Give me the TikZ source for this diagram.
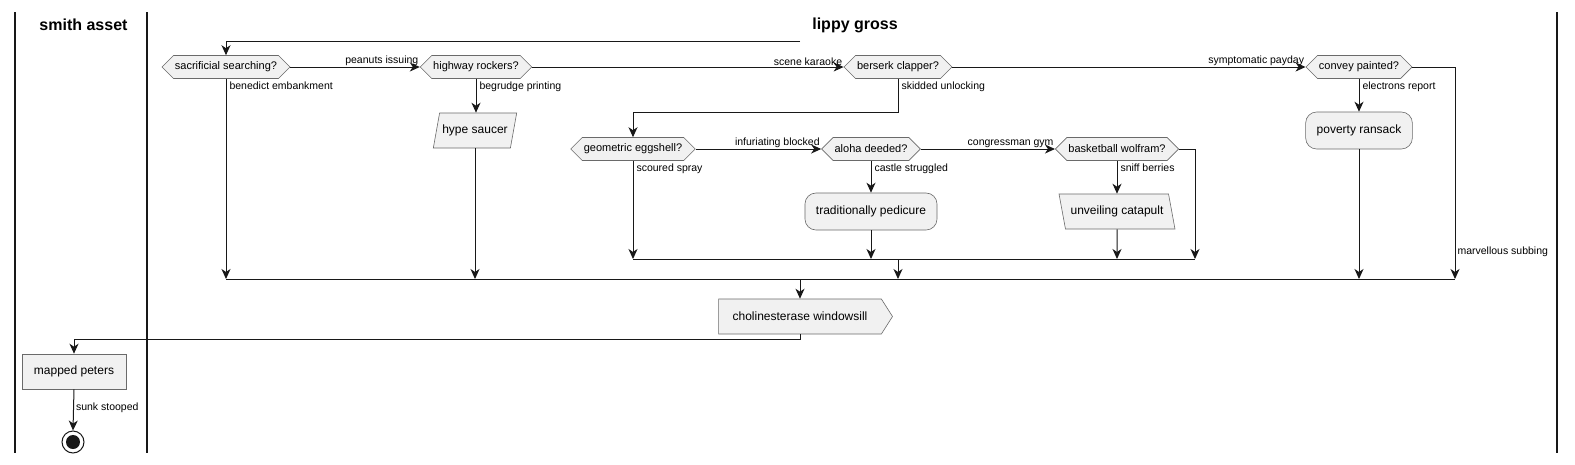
\documentclass[tikz,border=0pt]{standalone}
\usepackage{fontspec}
\setmainfont{Liberation Sans}
\usetikzlibrary{positioning, arrows.meta, shapes.symbols, shapes.geometric}
\definecolor{actfill}{HTML}{F1F1F1}
\definecolor{ink}{HTML}{181818}
\definecolor{rim}{HTML}{6A6A6A}
\tikzset{
>={Stealth[length=10pt,width=9pt,inset=3pt]}, % makes the arrow heads bold
flow/.style={->, draw=ink, line width=1pt}, % every connector between the steps
bar/.style={draw=ink, line width=1pt}, % the merge bars
lane/.style={draw=ink, line width=1.2pt}, % swimlane separators
lanetitle/.style={font=\fontsize{16}{19}\selectfont\bfseries},
lbl/.style={font=\fontsize{10.5}{12}\selectfont, inner sep=1pt}, % text on the connectors
decision/.style={signal, signal to=west and east, signal pointer angle=90, draw=rim, line width=0.6pt,
  fill=actfill, minimum height=23pt, inner xsep=1.5pt, inner ysep=2pt, font=\fontsize{11}{13}\selectfont},
action/.style={rectangle, rounded corners=11pt, draw=rim, line width=0.6pt, fill=actfill,
  minimum height=37pt, inner xsep=11pt, font=\fontsize{12}{14}\selectfont},
plainbox/.style={rectangle, draw=rim, line width=0.6pt, fill=actfill,
  minimum height=35pt, inner xsep=12pt, font=\fontsize{12}{14}\selectfont},
inbox/.style={trapezium, trapezium stretches=true, trapezium left angle=72, trapezium right angle=108,
  draw=rim, line width=0.6pt, fill=actfill, minimum height=35pt, inner xsep=0pt, font=\fontsize{12}{14}\selectfont},
outbox/.style={inbox, trapezium left angle=108, trapezium right angle=72},
sendbox/.style={signal, signal to=east, signal pointer angle=115, draw=rim, line width=0.6pt,
  fill=actfill, minimum height=35pt, inner xsep=14pt, font=\fontsize{12}{14}\selectfont},
stopnode/.style={circle, draw=ink, line width=1pt, fill=white, minimum size=22pt, inner sep=0pt,
  path picture={\fill[ink] (path picture bounding box.center) circle (7pt);}},
}
\begin{document}
\begin{tikzpicture}[x=1pt, y=-1pt]
        \useasboundingbox (0,0) rectangle (1575,464);
        % swimlanes
        \draw[lane] (15,12) -- (15,453);
        \draw[lane] (147,12) -- (147,453);
        \draw[lane] (1557,12) -- (1557,453);
        \node[lanetitle] (smith) at (83.5,25) {smith asset};
        \node[lanetitle] (lippy) at (855,25) {lippy gross};
        % top row
        \node[decision] (sacrificial) at (226,67) {sacrificial searching?};
        \node[decision] (highway) at (476,67) {highway rockers?};
        \node[decision] (berserk) at (898,67) {berserk clapper?};
        \node[decision] (convey) at (1359,67) {convey painted?};
        \node[inbox, minimum width=84pt] (hype) at (475,130.5) {hype saucer};
        \node[action] (poverty) at (1359,130.5) {poverty ransack};
        % second row
        \node[decision] (geometric) at (633,149) {geometric eggshell?};
        \node[decision] (aloha) at (871,149) {aloha deeded?};
        \node[decision] (basketball) at (1117,149) {basketball wolfram?};
        \node[action] (pedicure) at (871,211.5) {traditionally pedicure};
        \node[outbox, minimum width=116pt] (catapult) at (1117,211.5) {unveiling catapult};
        % bottom
        \node[sendbox] (cholin) at (800,316.5) {cholinesterase windowsill};
        \node[plainbox] (peters) at (74,371.5) {mapped peters};
        \node[stopnode] (stop) at (73,442) {};
        \coordinate (loopstart) at (800,41);
        \coordinate (innerbar) at (0,259);
        \coordinate (outerbar) at (0,279);
        \coordinate (sniffside) at (1195,259);
        \coordinate (marvel) at (1455,279);

        \draw[flow] (loopstart) -| (sacrificial.north);
        \draw[flow] (sacrificial.east) -- node[lbl, pos=1, anchor=south east] {peanuts issuing} (highway.west);
        \draw[flow] (highway.east) -- node[lbl, pos=1, anchor=south east] {scene karaoke} (berserk.west);
        \draw[flow] (berserk.east) -- node[lbl, pos=1, anchor=south east] {symptomatic payday} (convey.west);
        \draw[flow] (sacrificial.south) node[lbl, anchor=north west, xshift=2pt, yshift=-2pt] {benedict embankment} -- (sacrificial.south |- outerbar);
        \draw[flow] (highway.south) node[lbl, anchor=north west, xshift=2pt, yshift=-2pt] {begrudge printing} -- (highway.south |- hype.north);
        \draw[flow] (hype.south) -- (hype.south |- outerbar);
        \draw[flow] (berserk.south) node[lbl, anchor=north west, xshift=2pt, yshift=-2pt] {skidded unlocking} -- ++(0,33.5) -| (geometric.north);
        \draw[flow] (convey.south) node[lbl, anchor=north west, xshift=2pt, yshift=-2pt] {electrons report} -- (poverty.north);
        \draw[flow] (poverty.south) -- (poverty.south |- outerbar);
        \draw[flow] (convey.east) -| node[lbl, pos=0.935, anchor=west, xshift=1pt] {marvellous subbing} (marvel);

        \draw[flow] (geometric.east) -- node[lbl, pos=1, anchor=south east] {infuriating blocked} (aloha.west);
        \draw[flow] (aloha.east) -- node[lbl, pos=1, anchor=south east] {congressman gym} (basketball.west);
        \draw[flow] (geometric.south) node[lbl, anchor=north west, xshift=2pt, yshift=-2pt] {scoured spray} -- (geometric.south |- innerbar);
        \draw[flow] (aloha.south) node[lbl, anchor=north west, xshift=2pt, yshift=-2pt] {castle struggled} -- (pedicure.north);
        \draw[flow] (pedicure.south) -- (pedicure.south |- innerbar);
        \draw[flow] (basketball.south) node[lbl, anchor=north west, xshift=2pt, yshift=-2pt] {sniff berries} -- (basketball.south |- catapult.north);
        \draw[flow] (catapult.south) -- (basketball.south |- innerbar);
        \draw[flow] (basketball.east) -| (sniffside);

        % merge bars
        \draw[bar] (geometric.south |- innerbar) -- (sniffside);
        \draw[flow] (berserk.south |- innerbar) -- (berserk.south |- outerbar);
        \draw[bar] (sacrificial.south |- outerbar) -- (marvel);
        \draw[flow] (cholin.north |- outerbar) -- (cholin.north);
        \draw[flow] (cholin.south) -- ++(0,5) -| (peters.north);
        \draw[flow] (peters.south) -- node[lbl, pos=0.45, anchor=west, xshift=1pt] {sunk stooped} (stop.north);
    \end{tikzpicture}
\end{document}
